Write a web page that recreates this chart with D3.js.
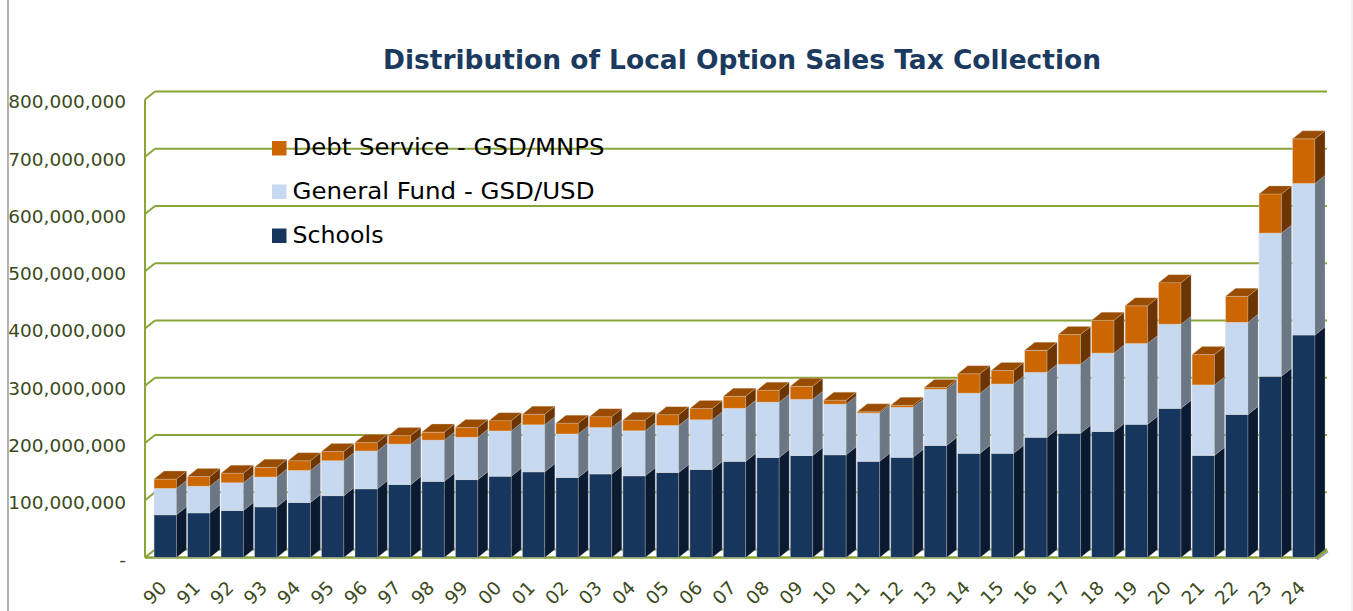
<!DOCTYPE html>
<html>
<head>
<meta charset="utf-8">
<script src="https://cdn.jsdelivr.net/npm/d3@7"></script>
<style>
  body { margin: 0; background: #fff; }
  svg { display: block; }
</style>
</head>
<body>
<div id="chart-container"></div>
<script>
// fiscal years, two-digit labels
const years = ['90', '91', '92', '93', '94', '95', '96', '97', '98', '99',
  '00', '01', '02', '03', '04', '05', '06', '07', '08', '09',
  '10', '11', '12', '13', '14', '15', '16', '17', '18', '19',
  '20', '21', '22', '23', '24'];

// collections in millions of dollars
const schools = [74.6, 78, 82, 88.5, 96, 108, 120, 127.5, 133, 136,
  142, 149.7, 139.7, 146, 142.7, 148.5, 153.7, 168, 174.7, 178,
  179.4, 168, 175, 195.6, 182, 182, 210, 217, 220, 232.7,
  260.5, 178.4, 250, 316.6, 388.7];
const generalFund = [46, 46.5, 48.5, 52, 56, 61, 66, 70.5, 72, 74,
  79, 82, 76, 81, 78.6, 82, 86.8, 92.6, 96.6, 98.3,
  88.4, 84, 87.3, 98.3, 105, 121, 113.4, 120.5, 137, 141,
  147, 123, 160.7, 250, 264.6];
const debtService = [16.4, 17, 16.8, 17, 17, 16, 15, 15, 14, 17,
  18, 18.6, 19, 19, 18.6, 19, 19.7, 21, 21, 22.7,
  7, 2.4, 3.5, 3, 34, 23.6, 38.4, 52, 57.3, 66,
  72.6, 53, 45.5, 68.5, 78];

const seriesNames = ['Schools', 'General Fund - GSD/USD', 'Debt Service - GSD/MNPS'];
const yTicks = [0, 100, 200, 300, 400, 500, 600, 700, 800];

const width = 1353;
const height = 611;
const depthX = 10, depthY = 8;   // 3d depth offset
const green = '#8ba43a';
const labelColor = '#3b4a20';

// colours per series: front, side, top
const colors = {
  'Schools': { front: '#17365d', side: '#0a1a31', top: '#10284a' },
  'General Fund - GSD/USD': { front: '#c6d9f1', side: '#6c7786', top: '#9fb2c9' },
  'Debt Service - GSD/MNPS': { front: '#cc6600', side: '#6c3400', top: '#994c00' }
};

const table = years.map((yr, i) => ({
  year: yr,
  'Schools': schools[i],
  'General Fund - GSD/USD': generalFund[i],
  'Debt Service - GSD/MNPS': debtService[i]
}));

const svg = d3.select('#chart-container')
  .append('svg')
  .attr('width', width)
  .attr('height', height);

svg.append('rect').attr('width', width).attr('height', height).attr('fill', '#fff');

// chart border
svg.append('line').attr('x1', 8).attr('x2', 8).attr('y1', 0).attr('y2', height)
  .attr('stroke', '#b3b3b3').attr('stroke-width', 2);
svg.append('line').attr('x1', 1352).attr('x2', 1352).attr('y1', 0).attr('y2', height)
  .attr('stroke', '#ececec').attr('stroke-width', 1.5);

// title
svg.append('text')
  .attr('x', 742)
  .attr('y', 69)
  .attr('text-anchor', 'middle')
  .attr('font-family', 'DejaVu Sans, Verdana, sans-serif')
  .attr('font-weight', 'bold')
  .attr('font-size', 26)
  .attr('fill', '#1b3a60')
  .attr('textLength', 718)
  .attr('lengthAdjust', 'spacingAndGlyphs')
  .text('Distribution of Local Option Sales Tax Collection');

// scales
const xScale = d3.scaleBand()
  .domain(years)
  .range([145, 1317])
  .padding(0);

const yScale = d3.scaleLinear()
  .domain([0, 800])
  .range([557.5, 99.5]);

const barInset = xScale.bandwidth() * 0.27;
const barWidth = xScale.bandwidth() * 0.67;

const x0 = xScale.range()[0];
const x1 = xScale.range()[1];

// back wall gridlines
const grid = svg.append('g').attr('class', 'grid');
grid.selectAll('line.back')
  .data(yTicks)
  .enter()
  .append('line')
  .attr('x1', x0 + depthX)
  .attr('x2', x1 + depthX)
  .attr('y1', d => yScale(d) - depthY)
  .attr('y2', d => yScale(d) - depthY)
  .attr('stroke', green)
  .attr('stroke-width', 2);

// left wall: diagonals and front edge
grid.selectAll('line.diag')
  .data(yTicks)
  .enter()
  .append('line')
  .attr('x1', x0)
  .attr('x2', x0 + depthX)
  .attr('y1', d => yScale(d))
  .attr('y2', d => yScale(d) - depthY)
  .attr('stroke', green)
  .attr('stroke-width', 2);

grid.append('line')
  .attr('x1', x0).attr('x2', x0)
  .attr('y1', yScale(0)).attr('y2', yScale(800))
  .attr('stroke', green).attr('stroke-width', 2);

// floor
grid.append('path')
  .attr('d', `M${x1},${yScale(0) + 2} L${x1 + depthX + 1},${yScale(0) + 2 - depthY}`)
  .attr('stroke', '#a0a0a0').attr('stroke-width', 2).attr('fill', 'none');
grid.append('path')
  .attr('d', `M${x0},${yScale(0)} L${x1},${yScale(0)} L${x1 + depthX},${yScale(0) - depthY}`)
  .attr('stroke', green).attr('stroke-width', 2.5).attr('fill', 'none');

// stacked 3d bars
const stacked = d3.stack().keys(seriesNames)(table);

const bars = svg.append('g').attr('class', 'bars');

years.forEach((yr, i) => {
  const g = bars.append('g');
  const bx = xScale(yr) + barInset;
  stacked.forEach((layer, li) => {
    const seg = layer[i];
    const name = layer.key;
    const yTop = yScale(seg[1]);
    const yBot = yScale(seg[0]);
    const c = colors[name];

    g.append('rect')
      .attr('x', bx)
      .attr('y', yTop)
      .attr('width', barWidth)
      .attr('height', yBot - yTop)
      .attr('fill', c.front)
      .attr('stroke', 'rgba(220,220,220,0.55)')
      .attr('stroke-width', 0.8);

    g.append('path')
      .attr('d', `M${bx + barWidth},${yBot} L${bx + barWidth + depthX},${yBot - depthY} ` +
        `L${bx + barWidth + depthX},${yTop - depthY} L${bx + barWidth},${yTop} Z`)
      .attr('fill', c.side)
      .attr('stroke', 'rgba(200,200,200,0.4)')
      .attr('stroke-width', 0.6);

    if (li === stacked.length - 1) {
      g.append('path')
        .attr('d', `M${bx},${yTop} L${bx + depthX},${yTop - depthY} ` +
          `L${bx + barWidth + depthX},${yTop - depthY} L${bx + barWidth},${yTop} Z`)
        .attr('fill', c.top)
        .attr('stroke', 'rgba(220,200,180,0.5)')
        .attr('stroke-width', 0.6);
    }
  });
});

// y axis labels
const fmt = d3.format(',');
svg.append('g')
  .selectAll('text')
  .data(yTicks)
  .enter()
  .append('text')
  .attr('x', 126)
  .attr('y', d => yScale(d) + 2.5)
  .attr('dy', '0.35em')
  .attr('text-anchor', 'end')
  .attr('font-family', 'DejaVu Sans, Verdana, sans-serif')
  .attr('font-size', 18.5)
  .attr('fill', labelColor)
  .text(d => d === 0 ? '-' : fmt(d * 1e6));

// x axis labels, rotated
svg.append('g')
  .selectAll('text')
  .data(years)
  .enter()
  .append('text')
  .attr('transform', d => `translate(${xScale(d) + barInset + barWidth / 2 + 2.5},589) rotate(-45)`)
  .attr('text-anchor', 'end')
  .attr('font-family', 'DejaVu Sans, Verdana, sans-serif')
  .attr('font-size', 18.5)
  .attr('fill', labelColor)
  .text(d => d);

// legend, top entry first
const legendItems = [
  { name: 'Debt Service - GSD/MNPS', y: 155, len: 312 },
  { name: 'General Fund - GSD/USD', y: 198.5, len: 302 },
  { name: 'Schools', y: 242.5, len: 91 }
];
const legend = svg.append('g').attr('class', 'legend');
legend.selectAll('rect')
  .data(legendItems)
  .enter()
  .append('rect')
  .attr('x', 272)
  .attr('y', d => d.y - 14)
  .attr('width', 14.5)
  .attr('height', 14.5)
  .attr('fill', d => colors[d.name].front);
legend.selectAll('text')
  .data(legendItems)
  .enter()
  .append('text')
  .attr('x', 292.5)
  .attr('y', d => d.y)
  .attr('font-family', 'DejaVu Sans, Verdana, sans-serif')
  .attr('font-size', 22.5)
  .attr('fill', '#000')
  .attr('textLength', d => d.len)
  .attr('lengthAdjust', 'spacingAndGlyphs')
  .text(d => d.name);
</script>
</body>
</html>
